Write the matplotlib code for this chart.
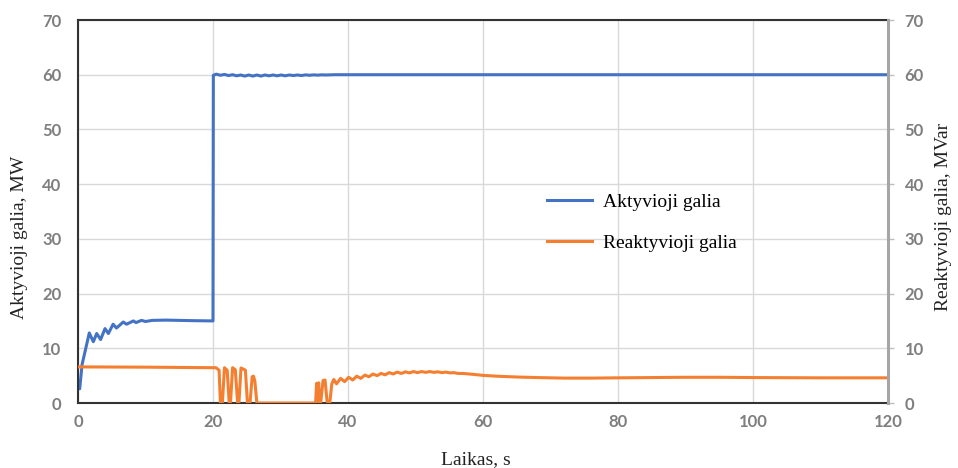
import matplotlib
matplotlib.use('Agg')
import matplotlib.pyplot as plt

# Data
x_ticks = [0, 20, 40, 60, 80, 100, 120]
y_ticks = [0, 10, 20, 30, 40, 50, 60, 70]

# Active power, MW
t_active = [0, 0.25, 0.6, 1.67, 2.27, 2.77, 3.35, 4.0, 4.5, 5.2, 5.7, 6.7, 7.2, 8.2, 8.6,
            9.4, 10.0, 11.0, 13.0, 15.0, 17.0, 20.0, 20.05,
            20.5, 21.1, 21.7, 22.3, 22.9, 23.5, 24.1, 24.7, 25.3, 25.9, 26.5, 27.1, 27.7,
            28.3, 28.9, 29.5, 30.1, 30.7, 31.3, 31.9, 32.5, 33.1, 33.7, 34.3, 34.9, 35.5,
            36.1, 36.7, 38.0, 60.0, 90.0, 120.0]
p_active = [3.5, 2.6, 7.0, 12.8, 11.2, 12.7, 11.6, 13.6, 12.7, 14.4, 13.7, 14.8, 14.4, 15.0, 14.7,
            15.1, 14.9, 15.1, 15.15, 15.1, 15.05, 15.0, 59.9,
            60.1, 59.9, 60.05, 59.85, 60.0, 59.8, 59.95, 59.75, 59.95, 59.75, 59.95, 59.75, 59.95,
            59.8, 59.95, 59.8, 59.95, 59.8, 59.95, 59.85, 59.95, 59.85, 59.97, 59.9, 59.97, 59.92,
            59.98, 59.95, 60.0, 60.0, 60.0, 60.0]

# Reactive power, MVar
t_reactive = [0, 10, 20.0, 20.45, 20.9, 21.1, 21.4, 21.7, 22.1, 22.4, 22.6, 22.9, 23.3, 23.65,
              23.85, 24.15, 24.8, 25.1, 25.5, 25.8, 26.0, 26.2, 26.5, 30.0, 35.2,
              35.35, 35.5, 35.65, 35.8, 35.95, 36.3, 36.6, 36.9, 37.3,
              37.6, 37.9, 38.3, 38.9, 39.5, 40.1, 40.7, 41.3, 41.9, 42.5, 43.1, 43.7, 44.3, 44.9,
              45.5, 46.1, 46.7, 47.3, 47.9, 48.5, 49.1, 49.7, 50.3, 50.9, 51.5, 52.1, 52.7, 53.3,
              53.9, 54.5, 55.1, 55.7, 56.3, 57.0, 58.0, 60.0, 62.0, 65.0, 68.0, 72.0, 76.0, 80.0,
              85.0, 90.0, 95.0, 100.0, 110.0, 120.0]
q_reactive = [6.6, 6.55, 6.45, 6.45, 6.0, 0.0, 0.2, 6.45, 6.0, 0.0, 0.2, 6.45, 6.1, 0.0,
              0.2, 6.4, 6.0, 0.0, 0.2, 4.8, 4.9, 4.0, 0.0, 0.0, 0.0,
              3.6, 0.3, 3.7, 0.2, 0.0, 4.1, 4.2, 0.3, 0.0,
              3.5, 4.3, 3.5, 4.5, 3.9, 4.7, 4.2, 4.9, 4.5, 5.1, 4.8, 5.3, 5.0, 5.4,
              5.15, 5.55, 5.3, 5.65, 5.4, 5.7, 5.5, 5.75, 5.55, 5.75, 5.6, 5.75, 5.6, 5.7,
              5.55, 5.65, 5.5, 5.55, 5.4, 5.4, 5.3, 5.05, 4.9, 4.75, 4.65, 4.55, 4.55, 4.6,
              4.65, 4.7, 4.7, 4.65, 4.6, 4.6]

blue = '#4472C4'
orange = '#F57F30'
tick_gray = '#7f7f7f'

fig = plt.figure(figsize=(9.58, 4.68), dpi=100)
ax = fig.add_axes([78 / 958, 65 / 468, 810 / 958, 383 / 468])
ax2 = ax.twinx()

l1, = ax.plot(t_active, p_active, color=blue, lw=2.2, label='Aktyvioji galia')
l2, = ax2.plot(t_reactive, q_reactive, color=orange, lw=2.2, label='Reaktyvioji galia')

for a in (ax, ax2):
    a.set_xlim(0, 120)
    a.set_ylim(0, 70)
    a.set_yticks(y_ticks)
ax.set_xticks(x_ticks)

ax.grid(True, color='#d9d9d9', lw=1)
ax.set_axisbelow(True)

tick_font = dict(family=['Lato', 'DejaVu Sans'], weight='bold', size=12)
ax.tick_params(axis='both', length=0, colors=tick_gray)
ax.tick_params(axis='y', pad=12)
ax.tick_params(axis='x', pad=8)
ax2.tick_params(axis='y', length=4, width=1, color='#bfbfbf', colors=tick_gray, pad=8)
ax2.tick_params(axis='y', color='#bfbfbf')
for lab in ax.get_xticklabels() + ax.get_yticklabels() + ax2.get_yticklabels():
    lab.set_fontproperties(tick_font)
    lab.set_color(tick_gray)

for s in ('left', 'top', 'bottom'):
    ax.spines[s].set_color('#333333')
    ax.spines[s].set_linewidth(1.5)
    ax2.spines[s].set_visible(False)
ax.spines['right'].set_visible(False)
ax2.spines['right'].set_color('#a6a6a6')
ax2.spines['right'].set_linewidth(2.2)

serif = ['Liberation Serif', 'DejaVu Serif']
fig.text(20 / 958, 1 - 237 / 468, 'Aktyvioji galia, MW', rotation=90, ha='center', va='center',
         family=serif, size=14, color='#222222')
fig.text(943 / 958, 1 - 217 / 468, 'Reaktyvioji galia, MVar', rotation=90, ha='center', va='center',
         family=serif, size=14, color='#222222')
fig.text(476 / 958, 1 - 460 / 468, 'Laikas, s', ha='center', va='center',
         family=serif, size=14, color='#222222')

ax2.legend(handles=[l1, l2], loc='upper left', bbox_to_anchor=(0.579, 0.547), frameon=False,
           prop={'family': serif, 'size': 14}, handlelength=2.3, handletextpad=0.6,
           labelspacing=1.2, borderpad=0, borderaxespad=0)

fig.savefig('out.png', dpi=100)
